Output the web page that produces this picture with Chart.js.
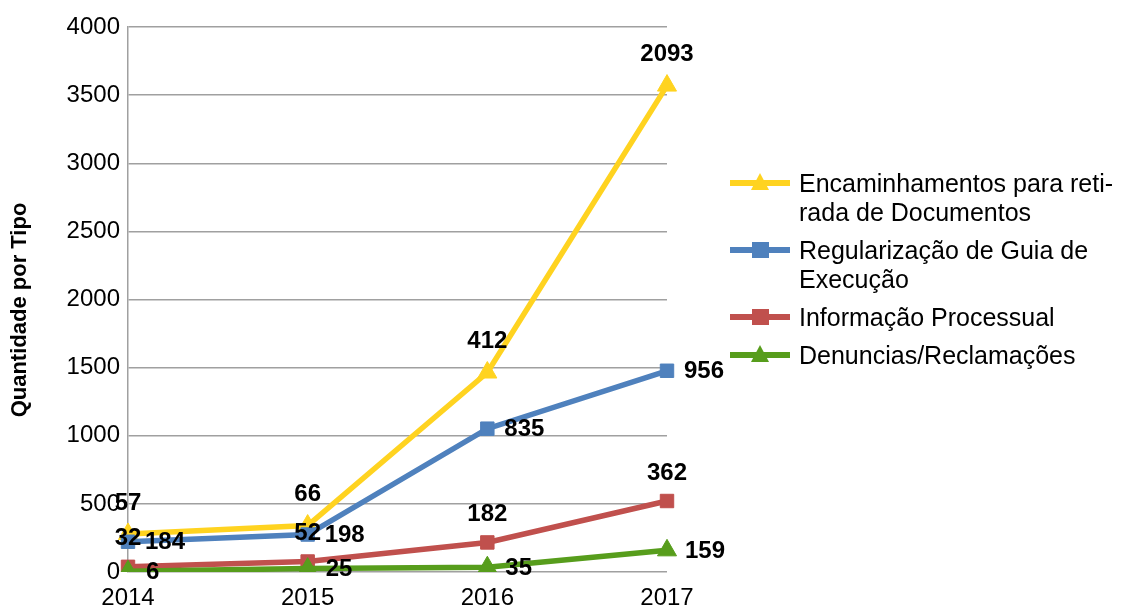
<!DOCTYPE html>
<html>
<head>
<meta charset="utf-8">
<script src="https://cdn.jsdelivr.net/npm/chart.js@4/dist/chart.umd.min.js"></script>
<style>
  html, body { margin: 0; padding: 0; background: #fff; }
  #chart { display: block; }
</style>
</head>
<body>
<canvas id="chart" width="1126" height="608"></canvas>
<script>
// ---- data ----
const years = ['2014', '2015', '2016', '2017'];
const encaminhamentos = [57, 66, 412, 2093];
const regularizacao = [184, 198, 835, 956];
const informacao = [32, 52, 182, 362];
const denuncias = [6, 25, 35, 159];
const yTicks = [0, 500, 1000, 1500, 2000, 2500, 3000, 3500, 4000];
const yTitle = 'Quantidade por Tipo';

const YELLOW = '#FFD320';
const BLUE = '#4F81BD';
const RED = '#C0504D';
const GREEN = '#579D1C';
const GRID = '#a0a0a0';

// legend entries (top to bottom)
const legendItems = [
  { lines: ['Encaminhamentos para reti-', 'rada de Documentos'], color: YELLOW, shape: 'tri' },
  { lines: ['Regularização de Guia de', 'Execução'], color: BLUE, shape: 'sq' },
  { lines: ['Informação Processual'], color: RED, shape: 'sq' },
  { lines: ['Denuncias/Reclamações'], color: GREEN, shape: 'tri' }
];

const FONT = '"Liberation Sans", Arial, sans-serif';

// ---- helpers ----
function series(label, data, color, style, labelPos) {
  const tri = style === 'triangle';
  return {
    label,
    data,
    borderColor: color,
    backgroundColor: color,
    borderWidth: 5.5,
    pointStyle: style,
    pointRadius: tri ? 11 : 9.5,
    pointBorderWidth: 1,
    pointBackgroundColor: color,
    pointBorderColor: color,
    fill: false,
    tension: 0,
    labelPos
  };
}

// value labels next to each point
const valueLabels = {
  id: 'valueLabels',
  afterDatasetsDraw(chart) {
    const ctx = chart.ctx;
    ctx.save();
    ctx.font = 'bold 24px ' + FONT;
    ctx.fillStyle = '#000';
    chart.data.datasets.forEach((ds, i) => {
      const meta = chart.getDatasetMeta(i);
      meta.data.forEach((pt, j) => {
        const txt = String(ds.data[j]);
        ctx.textBaseline = 'middle';
        if (ds.labelPos.side === 'above') {
          ctx.textAlign = 'center';
          ctx.fillText(txt, pt.x, pt.y - ds.labelPos.off);
        } else {
          ctx.textAlign = 'left';
          ctx.fillText(txt, pt.x + ds.labelPos.off, pt.y + 1);
        }
      });
    });
    ctx.restore();
  }
};

// legend on the right with wrapped text, plus the rotated axis title
const sideLegend = {
  id: 'sideLegend',
  afterDraw(chart) {
    const ctx = chart.ctx;
    ctx.save();
    ctx.font = '25px ' + FONT;
    ctx.textAlign = 'left';
    ctx.textBaseline = 'alphabetic';
    let base = 192;
    legendItems.forEach(item => {
      const cy = base - 9;
      ctx.strokeStyle = item.color;
      ctx.lineWidth = 6;
      ctx.beginPath();
      ctx.moveTo(730, cy);
      ctx.lineTo(790, cy);
      ctx.stroke();
      ctx.fillStyle = item.color;
      ctx.beginPath();
      if (item.shape === 'tri') {
        ctx.moveTo(760, cy - 10);
        ctx.lineTo(769, cy + 7);
        ctx.lineTo(751, cy + 7);
        ctx.closePath();
      } else {
        ctx.rect(752, cy - 8, 17, 16);
      }
      ctx.fill();
      ctx.fillStyle = '#000';
      item.lines.forEach((ln, k) => {
        ctx.fillText(ln, 799, base + k * 29);
      });
      base += (item.lines.length - 1) * 29 + 38;
    });

    // y axis title
    ctx.translate(20, 310);
    ctx.rotate(-Math.PI / 2);
    ctx.font = 'bold 22px ' + FONT;
    ctx.textAlign = 'center';
    ctx.textBaseline = 'middle';
    ctx.fillText(yTitle, 0, 0);
    ctx.restore();
  }
};

new Chart(document.getElementById('chart'), {
  type: 'line',
  data: {
    labels: years,
    datasets: [
      series('Denuncias/Reclamações', denuncias, GREEN, 'triangle', { side: 'right', off: 18 }),
      series('Informação Processual', informacao, RED, 'rect', { side: 'above', off: 28 }),
      series('Regularização de Guia de Execução', regularizacao, BLUE, 'rect', { side: 'right', off: 17 }),
      series('Encaminhamentos para retirada de Documentos', encaminhamentos, YELLOW, 'triangle', { side: 'above', off: 31 })
    ]
  },
  options: {
    responsive: false,
    animation: false,
    layout: { padding: { top: 27, right: 459, bottom: 0, left: 0 } },
    plugins: {
      legend: { display: false },
      tooltip: { enabled: false }
    },
    scales: {
      x: {
        offset: false,
        grid: { display: false, drawTicks: false },
        border: { display: false },
        ticks: { color: '#000', font: { family: FONT, size: 24 }, padding: 12, maxRotation: 0 },
        afterFit(scale) { scale.height = 36; }
      },
      y: {
        stacked: true,
        min: 0,
        max: 4000,
        afterBuildTicks(scale) { scale.ticks = yTicks.map(v => ({ value: v })); },
        grid: { color: GRID, lineWidth: 1.5, drawTicks: false },
        border: { display: true, color: GRID, width: 1.5 },
        ticks: {
          color: '#000',
          font: { family: FONT, size: 24 },
          padding: 8,
          callback: v => String(v)
        },
        afterFit(scale) { scale.width = 128; }
      }
    }
  },
  plugins: [valueLabels, sideLegend]
});
</script>
</body>
</html>
